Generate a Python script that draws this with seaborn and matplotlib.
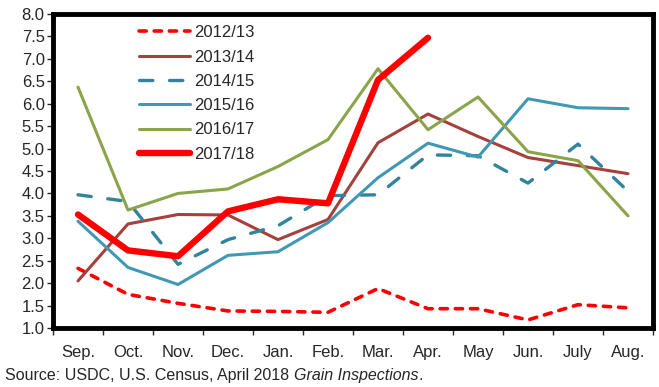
import matplotlib
matplotlib.use('Agg')
import matplotlib.pyplot as plt
import pandas as pd
import seaborn as sns

months = ['Sep.', 'Oct.', 'Nov.', 'Dec.', 'Jan.', 'Feb.', 'Mar.', 'Apr.', 'May', 'Jun.', 'July', 'Aug.']

y2012 = [2.33, 1.75, 1.55, 1.38, 1.37, 1.35, 1.88, 1.43, 1.43, 1.18, 1.52, 1.45]
y2013 = [2.05, 3.32, 3.53, 3.52, 2.97, 3.42, 5.13, 5.77, 5.27, 4.80, 4.62, 4.44]
y2014 = [3.97, 3.82, 2.42, 2.97, 3.28, 3.95, 3.97, 4.86, 4.84, 4.23, 5.10, 4.05]
y2015 = [3.38, 2.35, 1.97, 2.62, 2.70, 3.35, 4.35, 5.12, 4.81, 6.11, 5.91, 5.89]
y2016 = [6.37, 3.63, 4.00, 4.10, 4.60, 5.20, 6.78, 5.42, 6.15, 4.93, 4.73, 3.50]
y2017 = [3.53, 2.73, 2.60, 3.60, 3.87, 3.78, 6.53, 7.47]

series = [
    ('2012/13', y2012, '#ff0000', 2.6, (0, (2.0, 2.2))),
    ('2013/14', y2013, '#a5403d', 2.2, '-'),
    ('2014/15', y2014, '#31849b', 2.4, (0, (4, 5))),
    ('2015/16', y2015, '#4198b5', 2.2, '-'),
    ('2016/17', y2016, '#8ba44a', 2.2, '-'),
    ('2017/18', y2017, '#ff0000', 4.6, '-'),
]

sns.set_style('white')
plt.rcParams['font.family'] = ['Liberation Sans', 'DejaVu Sans']

fig = plt.figure(figsize=(6.59, 3.87), dpi=100)
ax = fig.add_axes([53 / 659, 59 / 387, 600 / 659, 314 / 387])

for label, vals, color, lw, ls in series:
    df = pd.DataFrame({'x': range(len(vals)), 'y': vals})
    sns.lineplot(data=df, x='x', y='y', ax=ax, color=color, linewidth=lw,
                 linestyle=ls, label=label, solid_capstyle='round',
                 dash_capstyle='round')

ax.set_xlim(-0.5, 11.5)
ax.set_ylim(1.0, 8.0)
ax.set_yticks([1.0 + 0.5 * i for i in range(15)])
ax.set_yticklabels([f'{1.0 + 0.5 * i:.1f}' for i in range(15)], fontsize=12)
ax.set_xticks([i - 0.5 for i in range(13)])
ax.set_xticklabels([])
ax.set_xticks(range(12), minor=True)
ax.set_xticklabels(months, minor=True, fontsize=12)
ax.tick_params(axis='x', which='major', length=5, width=1, direction='out', bottom=True)
ax.tick_params(axis='x', which='minor', length=0, pad=12)
ax.tick_params(axis='y', length=4, width=1, direction='out', left=True, pad=2)
ax.set_xlabel('')
ax.set_ylabel('')
for s in ax.spines.values():
    s.set_color('black')
    s.set_linewidth(3.5)

ax.legend(loc='upper left', bbox_to_anchor=(0.125, 1.0), frameon=False,
          handlelength=3.05, fontsize=12, labelspacing=0.56, handletextpad=0.25,
          borderaxespad=0.27)

# source line: plain part, then italic title, placed one after another
fig.canvas.draw()
renderer = fig.canvas.get_renderer()
x0 = 5 / 659
parts = [('Source: USDC, U.S. Census, April 2018 ', 'normal'),
         ('Grain Inspections', 'italic'), ('.', 'normal')]
for txt, st in parts:
    t = fig.text(x0, 0.03, txt, fontsize=11.5, style=st, va='center')
    bb = t.get_window_extent(renderer)
    x0 += bb.width / fig.bbox.width

fig.savefig('out.png', dpi=100)
